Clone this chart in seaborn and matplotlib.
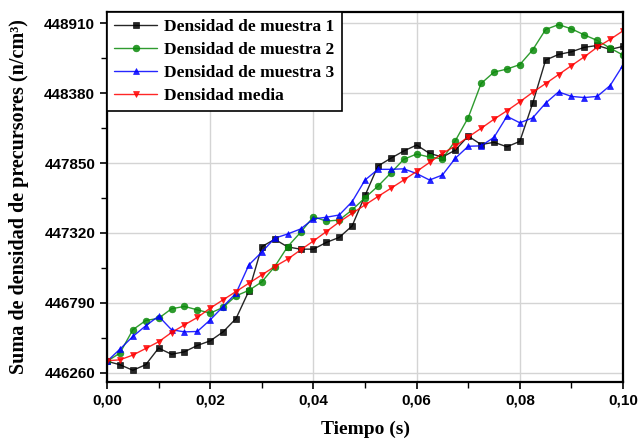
import matplotlib
matplotlib.use("Agg")
import matplotlib.pyplot as plt
import seaborn as sns
import numpy as np
import pandas as pd

tiempo = [i * 0.0025 for i in range(41)]

muestra_1 = [446347, 446321, 446279, 446321, 446447, 446400, 446419, 446467, 446502, 446570,
             446671, 446881, 447216, 447272, 447214, 447197, 447197, 447248, 447286, 447373,
             447604, 447827, 447886, 447941, 447986, 447923, 447895, 447948, 448054, 447990,
             448007, 447973, 448014, 448304, 448630, 448673, 448693, 448727, 448741, 448711,
             448734]
muestra_2 = [446347, 446409, 446586, 446656, 446673, 446745, 446763, 446737, 446712, 446756,
             446843, 446885, 446949, 447065, 447216, 447324, 447443, 447409, 447418, 447494,
             447587, 447674, 447774, 447878, 447918, 447895, 447882, 448019, 448194, 448453,
             448539, 448562, 448596, 448708, 448862, 448899, 448867, 448821, 448779, 448721,
             448668]
muestra_3 = [446347, 446439, 446535, 446616, 446689, 446586, 446570, 446573, 446661, 446762,
             446863, 447078, 447175, 447280, 447312, 447350, 447426, 447439, 447456, 447557,
             447721, 447802, 447802, 447806, 447770, 447721, 447759, 447886, 447977, 447980,
             448045, 448204, 448155, 448192, 448304, 448389, 448355, 448346, 448355, 448437,
             448592]
media = [446351, 446358, 446394, 446444, 446495, 446565, 446623, 446679, 446750, 446813,
         446876, 446939, 447002, 447065, 447121, 447191, 447259, 447330, 447403, 447469,
         447532, 447596, 447658, 447721, 447786, 447854, 447923, 447979, 448047, 448113,
         448182, 448246, 448314, 448386, 448452, 448520, 448588, 448655, 448728, 448787,
         448852]

series_names = ["Densidad de muestra 1", "Densidad de muestra 2",
                "Densidad de muestra 3", "Densidad media"]
series_values = [muestra_1, muestra_2, muestra_3, media]
colors = ["#000000", "#0a8a0a", "#0000ff", "#ff0000"]
markers = ["s", "o", "^", "v"]

x_ticks = [0.00, 0.02, 0.04, 0.06, 0.08, 0.10]
x_ticklabels = ["0,00", "0,02", "0,04", "0,06", "0,08", "0,10"]
y_ticks = [446260, 446790, 447320, 447850, 448380, 448910]
y_ticklabels = ["446260", "446790", "447320", "447850", "448380", "448910"]

sns.set_theme(style="white")

fig = plt.figure(figsize=(6.39, 4.43), dpi=100)
ax = fig.add_axes([0.1675, 0.1377, 0.8075, 0.8353])

for name, vals, c, m in zip(series_names, series_values, colors, markers):
    df = pd.DataFrame({"t": tiempo, "v": vals})
    sns.lineplot(data=df, x="t", y="v", ax=ax, color=c, marker=m, markersize=4.8,
                 markeredgecolor=c, markeredgewidth=0.5, linewidth=1.0,
                 label=name, alpha=0.85)

ax.set_xlim(0, 0.10)
ax.set_ylim(446190, 448995)
ax.set_xticks(x_ticks)
ax.set_xticklabels(x_ticklabels)
ax.set_yticks(y_ticks)
ax.set_yticklabels(y_ticklabels)
ax.set_xticks([0.01, 0.03, 0.05, 0.07, 0.09], minor=True)
ax.set_yticks([446525, 447055, 447585, 448115, 448645], minor=True)

ax.grid(True, which="major", color="#d4d4d4", linewidth=1.0)
ax.set_axisbelow(True)

for s in ax.spines.values():
    s.set_color("black")
    s.set_linewidth(1.6)

ax.tick_params(axis="both", which="major", direction="out", length=5, width=1.2,
               color="black", bottom=True, left=True)
ax.tick_params(axis="both", which="minor", direction="out", length=4, width=1.0,
               color="black", bottom=True, left=True)
for lab in ax.get_xticklabels() + ax.get_yticklabels():
    lab.set_fontfamily("Liberation Sans")
    lab.set_fontweight("bold")
    lab.set_fontsize(11)
    lab.set_color("black")

ax.set_xlabel("Tiempo (s)", fontfamily="Liberation Serif", fontweight="bold",
              fontsize=14, color="black", labelpad=9)
ax.set_ylabel("Suma de densidad de precursores (n/cm³)", fontfamily="Liberation Serif",
              fontweight="bold", fontsize=14.5, color="black", labelpad=11)

leg = ax.legend(loc="upper left", borderaxespad=0.0, frameon=True, fancybox=False,
                prop={"family": "Liberation Serif", "weight": "bold", "size": 12.5},
                handlelength=2.5, handletextpad=0.4, labelspacing=0.4,
                borderpad=0.4, framealpha=1.0)
leg.get_frame().set_edgecolor("black")
leg.get_frame().set_linewidth(1.2)
for t in leg.get_texts():
    t.set_color("black")

fig.savefig("out.png", dpi=100)
